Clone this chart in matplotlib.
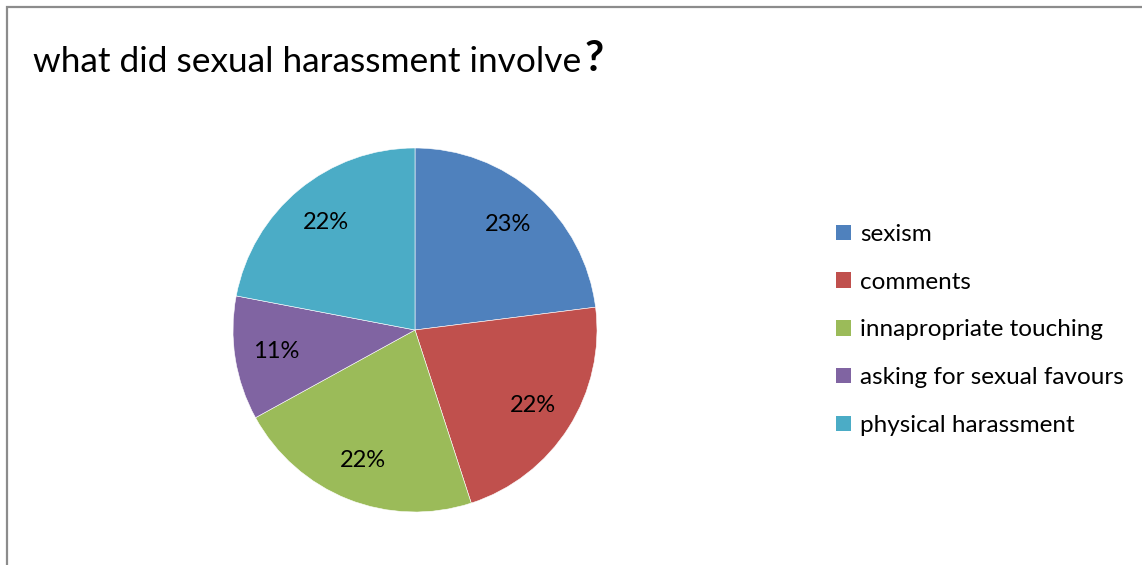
import matplotlib.pyplot as plt
from matplotlib.patches import Rectangle, Patch

categories = ['sexism', 'comments', 'innapropriate touching',
              'asking for sexual favours', 'physical harassment']
shares = [23, 22, 22, 11, 22]
colors = ['#4F81BD', '#C0504D', '#9BBB59', '#8064A2', '#4BACC6']

W, H = 1142, 565
fig = plt.figure(figsize=(W / 100, H / 100), dpi=100)
plt.rcParams['font.family'] = ['Lato', 'DejaVu Sans']

# chart frame, runs off the right and bottom edges
fig.add_artist(Rectangle((7 / W, -0.1), 1.2, 1.1 - 7 / H, transform=fig.transFigure,
                         fill=False, edgecolor='#8c8c8c', linewidth=1.6))

# title: plain text followed by a bold question mark
t = fig.text(33 / W, 1 - 62 / H, 'what did sexual harassment involve',
             fontsize=25.4, va='center', ha='left', color='black')
fig.canvas.draw()
bb = t.get_window_extent(fig.canvas.get_renderer())
fig.text(bb.x1 / W + 3 / W, 1 - 59 / H, '?', fontsize=30, fontweight='bold',
         va='center', ha='left', color='black')

# pie
r = 182
cx, cy = 415, 330
ax = fig.add_axes([(cx - r) / W, 1 - (cy + r) / H, 2 * r / W, 2 * r / H])
wedges, texts, autotexts = ax.pie(
    shares, colors=colors, startangle=90, counterclock=False,
    autopct=lambda p: '%d%%' % round(p), pctdistance=0.77,
    wedgeprops=dict(edgecolor='white', linewidth=0.4),
    textprops=dict(fontsize=17, color='black'))
ax.set_xlim(-1, 1)
ax.set_ylim(-1, 1)
ax.set_aspect('equal')

handles = [Patch(facecolor=c, edgecolor='none') for c in colors]
fig.legend(handles, categories, loc='center left',
           bbox_to_anchor=(836 / W, 1 - 330 / H), frameon=False,
           borderpad=0, borderaxespad=0,
           fontsize=17.5, handlelength=0.6, handleheight=0.6,
           handletextpad=0.38, labelspacing=1.1)

fig.savefig('out.png', dpi=100, facecolor='white')
